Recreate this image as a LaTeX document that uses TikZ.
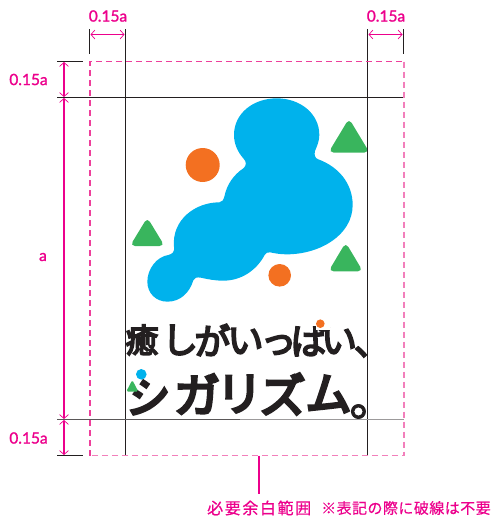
\documentclass[tikz,border=0pt]{standalone}
\usepackage{fontspec}
\usetikzlibrary{arrows.meta}
\setmainfont{Lato}
\newfontfamily\lblf[FakeBold=1.4]{Lato}
\newfontfamily\jpf[FakeBold=5]{Noto Sans CJK JP}
\newfontfamily\jpg[FakeBold=6]{Noto Sans CJK JP}
\newfontfamily\jph[FakeBold=2]{Noto Sans CJK JP}
\newfontfamily\jpa[LetterSpace=10,FakeBold=0.6]{Noto Sans CJK JP}
\newfontfamily\jpb[LetterSpace=3,FakeBold=0.4]{Noto Sans CJK JP}
\definecolor{mag}{HTML}{EC008C}
\definecolor{dashA}{HTML}{EE3F9B}
\definecolor{dashB}{HTML}{F27FBB}
\definecolor{inkk}{HTML}{231F20}
\definecolor{logoblue}{HTML}{00B2EC}
\definecolor{logoorange}{HTML}{F37021}
\definecolor{logogreen}{HTML}{39B55D}
\tikzset{
 guide/.style={draw=inkk,line width=1.1pt},
 dimline/.style={draw=mag,line width=1.05pt,{Straight Barb[length=4pt,width=9pt,line width=0.7pt]}-{Straight Barb[length=4pt,width=9pt,line width=0.7pt]}},
 dimlabel/.style={text=mag,font=\lblf\fontsize{15.5}{16}\selectfont,inner sep=0pt},
 cleartop/.style={draw=dashA,line width=1.2pt,dash pattern=on 6pt off 4pt},
 clearlow/.style={draw=dashB,line width=1.6pt,dash pattern=on 6pt off 4pt},
 gtri/.style={fill=logogreen,rounded corners=5pt},
 lone/.style={text=inkk,font=\jpf\fontsize{36}{36}\selectfont,inner sep=0pt},
 ltwo/.style={text=inkk,font=\jpg\fontsize{46}{46}\selectfont,inner sep=0pt},
}
\begin{document}
\begin{tikzpicture}[x=1pt,y=-1pt]
\useasboundingbox (0,0) rectangle (494,517);
% logo blob
\begin{scope}[shift={(130,95)},scale=1/3]
\fill[logoblue] (440,10) .. controls (510,10) and (568,55) .. (568,120)
 .. controls (568,140) and (560,155) .. (555,168)
 .. controls (552,180) and (555,190) .. (565,193)
 .. controls (625,215) and (668,265) .. (668,330)
 .. controls (668,420) and (570,478) .. (470,478)
 .. controls (450,478) and (435,475) .. (420,472)
 .. controls (412,471) and (408,474) .. (404,480)
 .. controls (380,525) and (335,557) .. (280,557)
 .. controls (255,557) and (235,553) .. (212,548)
 .. controls (200,546) and (194,548) .. (190,556)
 .. controls (178,595) and (150,620) .. (112,620)
 .. controls (78,620) and (52,595) .. (52,560)
 .. controls (52,522) and (80,485) .. (115,480)
 .. controls (128,477) and (134,470) .. (132,455)
 .. controls (125,375) and (195,322) .. (268,322)
 .. controls (276,322) and (280,315) .. (283,305)
 .. controls (290,270) and (310,240) .. (340,220)
 .. controls (350,212) and (350,200) .. (340,190)
 .. controls (322,170) and (312,145) .. (312,120)
 .. controls (312,55) and (370,10) .. (440,10) -- cycle;
\end{scope}
\fill[logoorange] (202.7,165) circle (17);
\fill[logoorange] (279.7,275.3) circle (11.3);
\fill[gtri] (349,118.5) -- (328.5,152.5) -- (369.5,152.5) -- cycle;
\fill[gtri] (147.3,217.5) -- (130,246) -- (164.6,246) -- cycle;
\fill[gtri] (345.7,242.5) -- (328.5,271.3) -- (362.9,271.3) -- cycle;
% logotype
\node[lone,font=\jpf\fontsize{33}{33}\selectfont] (c1) at (142,340) {癒};
\node[lone] (c2) at (180,340) {し};
\node[lone] (c3) at (212.5,340) {が};
\node[lone] (c4) at (245.5,341) {い};
\node[lone] (c5) at (278.5,345) {っ};
\node[lone] (c6) at (309,340) {ぱ};
\node[lone] (c7) at (339,341) {い};
\node[lone] (c8) at (372,352) {、};
\fill[white] (316,318) rectangle (330,330);
\fill[logoorange] (320.3,323.7) circle (4.3);
\node[ltwo] (d1) at (147.5,396) {シ};
\fill[white] (122,368) -- (150,368) -- (138,386) -- (128,400) -- (122,400) -- cycle;
\fill[logoblue] (141.3,374.3) circle (5.3);
\fill[logogreen,rounded corners=1.5pt] (132.3,380) -- (126.3,391.5) -- (138.3,391.5) -- cycle;
\node[ltwo] (d2) at (197,394) {ガ};
\node[ltwo] (d3) at (239.5,394) {リ};
\node[ltwo] (d4) at (282.5,394) {ズ};
\node[ltwo] (d5) at (328.5,394) {ム};
\node[ltwo,font=\jph\fontsize{46}{46}\selectfont] (d6) at (372.5,411.5) {。};
% guides
\coordinate (vLa) at (89.5,29); \coordinate (vLb) at (89.5,54);
\coordinate (vMa) at (125.5,29); \coordinate (vMb) at (125.5,455);
\coordinate (vNa) at (367.5,29); \coordinate (vNb) at (367.5,455);
\coordinate (vRa) at (403.5,29); \coordinate (vRb) at (403.5,54);
\coordinate (hAa) at (57,61.5); \coordinate (hAb) at (83,61.5);
\coordinate (hBa) at (57,97.5); \coordinate (hBb) at (403.5,97.5);
\coordinate (hCa) at (57,419.5); \coordinate (hCm) at (240,419.5); \coordinate (hCb) at (403.5,419.5);
\coordinate (hDa) at (57,455.5); \coordinate (hDb) at (83,455.5);
\draw[guide] (vLa)--(vLb); \draw[guide] (vMa)--(vMb); \draw[guide] (vNa)--(vNb); \draw[guide] (vRa)--(vRb);
\draw[guide] (hAa)--(hAb); \draw[guide] (hBa)--(hBb); \draw[guide] (hDa)--(hDb);
\draw[draw=inkk!75,line width=1.1pt] (hCa)--(hCm);
\draw[draw=inkk!45,line width=1.1pt] (hCm)--(hCb);
% clear-space frame
\coordinate (TL) at (90,61.5); \coordinate (TR) at (404,61.5);
\coordinate (BL) at (90,455.5); \coordinate (BR) at (404,455.5);
\draw[cleartop] (BL)--(TL)--(TR);
\draw[clearlow] (TR)--(BR)--(BL);
% dimensions
\coordinate (a1) at (90.5,34.5); \coordinate (a2) at (124.5,34.5);
\coordinate (a3) at (368.5,34.5); \coordinate (a4) at (402.5,34.5);
\coordinate (b1) at (64,62); \coordinate (b2) at (64,97);
\coordinate (b3) at (64,98); \coordinate (b4) at (64,419);
\coordinate (b5) at (64,420); \coordinate (b6) at (64,455);
\draw[dimline] (a1)--(a2); \draw[dimline] (a3)--(a4);
\draw[dimline] (b1)--(b2); \draw[dimline] (b3)--(b4); \draw[dimline] (b5)--(b6);
\node[dimlabel] (l1) at (108,16) {0.15a};
\node[dimlabel] (l2) at (386,16) {0.15a};
\node[dimlabel] (l3) at (28.5,79.5) {0.15a};
\node[dimlabel] (l4) at (43,257) {a};
\node[dimlabel] (l5) at (28.5,438) {0.15a};
% leader and note
\coordinate (la) at (259,455.5); \coordinate (lb) at (259,494);
\draw[draw=mag,line width=1.05pt] (la)--(lb);
\node[anchor=west,inner sep=0pt,text=mag,font=\jpa\fontsize{16}{16}\selectfont] (n1) at (207,508) {必要余白範囲};
\node[anchor=west,inner sep=0pt,text=mag,font=\jpb\fontsize{15}{15}\selectfont] (n2) at (321,508) {※表記の際に破線は不要};
\end{tikzpicture}
\end{document}
